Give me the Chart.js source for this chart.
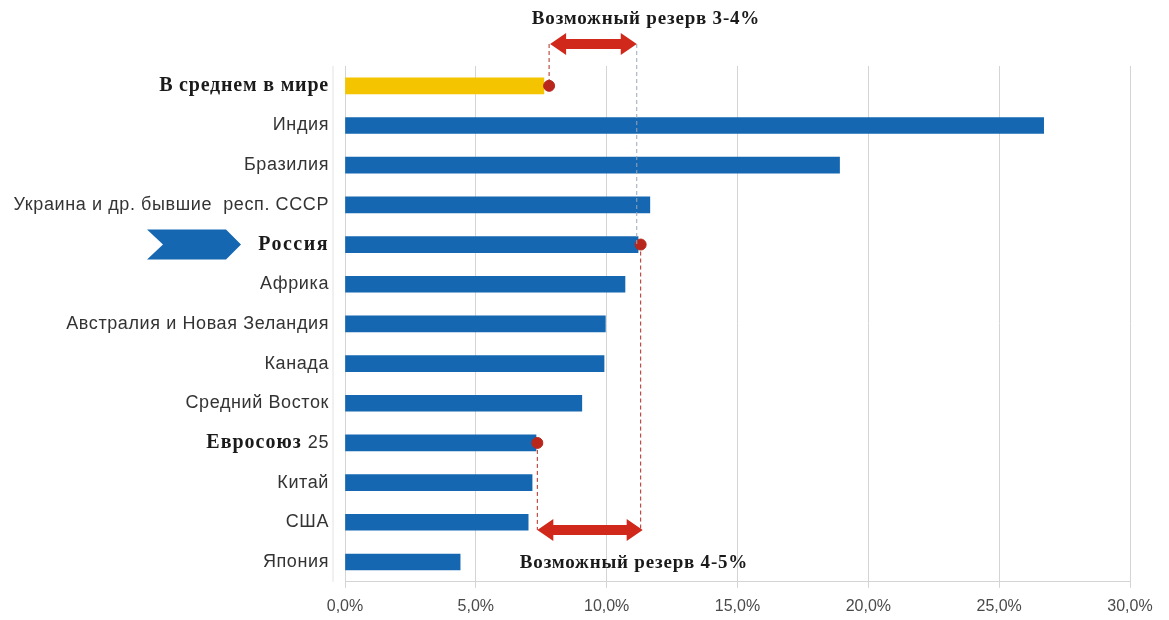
<!DOCTYPE html>
<html>
<head>
<meta charset="utf-8">
<script src="https://cdn.jsdelivr.net/npm/chart.js@4"></script>
<style>
  html, body { margin: 0; padding: 0; background: #fff; }
  #wrap { width: 1169px; height: 620px; }
</style>
</head>
<body>
<div id="wrap"><canvas id="chart" width="1169" height="620"></canvas></div>
<script>
/* Data */
const categories = ["В среднем в мире", "Индия", "Бразилия", "Украина и др. бывшие  респ. СССР", "Россия", "Африка",
    "Австралия и Новая Зеландия", "Канада", "Средний Восток", "Евросоюз 25", "Китай", "США", "Япония"];
const values = [7.6, 26.7, 18.9, 11.65, 11.2, 10.7, 9.95, 9.9, 9.05, 7.3, 7.15, 7.0, 4.4];
const barColors = ["#f5c400", "#1567b2", "#1567b2", "#1567b2", "#1567b2", "#1567b2", "#1567b2",
    "#1567b2", "#1567b2", "#1567b2", "#1567b2", "#1567b2", "#1567b2"];
const dotCategories = ["В среднем в мире", "Россия", "Евросоюз 25"];
const dotValues = [7.8, 11.3, 7.35];
const boldLabels = ["В среднем в мире", "Россия", "Евросоюз"];
const reserveTop = [7.8, 11.15];     // Возможный резерв 3-4%
const reserveBottom = [7.35, 11.3];  // Возможный резерв 4-5%
const xTicks = [0, 5, 10, 15, 20, 25, 30];

/* Utilities */
function fmtPct(v){
    return v.toFixed(1).replace(".", ",") + "%";
}

const SANS = "18px 'Liberation Sans', Arial";
const SERIF_B = "bold 20px 'Liberation Serif', serif";

function drawArrow(ctx, x1, x2, y){
    const h = 5, head = 16, hw = 11;
    ctx.beginPath();
    ctx.moveTo(x1, y);
    ctx.lineTo(x1 + head, y - hw);
    ctx.lineTo(x1 + head, y - h);
    ctx.lineTo(x2 - head, y - h);
    ctx.lineTo(x2 - head, y - hw);
    ctx.lineTo(x2, y);
    ctx.lineTo(x2 - head, y + hw);
    ctx.lineTo(x2 - head, y + h);
    ctx.lineTo(x1 + head, y + h);
    ctx.lineTo(x1 + head, y + hw);
    ctx.closePath();
    ctx.fillStyle = "#d0281a";
    ctx.fill();
}

function dashed(ctx, x, y1, y2, color){
    ctx.save();
    ctx.strokeStyle = color;
    ctx.lineWidth = 1;
    ctx.setLineDash([4, 3]);
    ctx.beginPath();
    ctx.moveTo(x, y1);
    ctx.lineTo(x, y2);
    ctx.stroke();
    ctx.restore();
}

const overlay = {
    id: "overlay",
    afterDraw(chart){
        const ctx = chart.ctx;
        const xs = chart.scales.x, ys = chart.scales.y;
        const area = chart.chartArea;

        /* Category labels */
        ctx.save();
        ctx.textBaseline = "middle";
        ctx.textAlign = "right";
        categories.forEach(function(c, i){
            const y = ys.getPixelForValue(i);
            const xr = area.left - 16;
            if(c == "Евросоюз 25"){
                ctx.font = SANS;
                ctx.letterSpacing = "0.6px";
                ctx.fillStyle = "#333";
                const w = ctx.measureText("25").width;
                ctx.fillText("25", xr, y);
                ctx.font = SERIF_B;
                ctx.letterSpacing = "1px";
                ctx.fillStyle = "#1a1a1a";
                ctx.fillText("Евросоюз ", xr - w, y);
            }else if(boldLabels.indexOf(c) >= 0){
                ctx.font = SERIF_B;
                ctx.letterSpacing = c == "Россия" ? "1.5px" : "0.8px";
                ctx.fillStyle = "#1a1a1a";
                ctx.fillText(c, xr, y);
            }else{
                ctx.font = SANS;
                ctx.letterSpacing = "0.6px";
                ctx.fillStyle = "#333";
                ctx.fillText(c, xr, y);
            }
        });
        ctx.restore();

        /* faint axis line left of plot */
        ctx.save();
        ctx.strokeStyle = "#e2e2e2";
        ctx.beginPath();
        ctx.moveTo(area.left - 12, area.top);
        ctx.lineTo(area.left - 12, area.bottom);
        ctx.stroke();
        ctx.restore();

        /* Chevron next to Russia */
        const yr = ys.getPixelForValue(categories.indexOf("Россия"));
        ctx.save();
        ctx.fillStyle = "#1567b2";
        ctx.beginPath();
        ctx.moveTo(147, yr - 15);
        ctx.lineTo(226, yr - 15);
        ctx.lineTo(241, yr);
        ctx.lineTo(226, yr + 15);
        ctx.lineTo(147, yr + 15);
        ctx.lineTo(163, yr);
        ctx.closePath();
        ctx.fill();
        ctx.restore();

        /* Reserve arrows */
        const topY = 44, botY = 530;
        const yw = ys.getPixelForValue(0);
        const ye = ys.getPixelForValue(categories.indexOf("Евросоюз 25"));
        const t1 = xs.getPixelForValue(reserveTop[0]), t2 = xs.getPixelForValue(reserveTop[1]);
        const b1 = xs.getPixelForValue(reserveBottom[0]), b2 = xs.getPixelForValue(reserveBottom[1]);
        dashed(ctx, t1, topY, yw, "#b02a20");
        dashed(ctx, t2, topY, yr, "#9aa6b8");
        dashed(ctx, b2, yr, botY, "#b02a20");
        dashed(ctx, b1, ye, botY, "#b02a20");
        drawArrow(ctx, t1 + 1, t2, topY);
        drawArrow(ctx, b1, b2 + 2, botY);

        ctx.save();
        ctx.font = "bold 19px 'Liberation Serif', serif";
        ctx.letterSpacing = "0.8px";
        ctx.fillStyle = "#1a1a1a";
        ctx.textAlign = "center";
        ctx.textBaseline = "middle";
        ctx.fillText("Возможный резерв 3-4%", 646, 19);
        ctx.fillText("Возможный резерв 4-5%", 634, 563);
        ctx.restore();
    }
};

new Chart(document.getElementById("chart"), {
    type: "bar",
    data: {
        labels: categories,
        datasets: [
            {
                type: "scatter",
                data: dotCategories.map(function(c, i){ return {x: dotValues[i], y: c}; }),
                backgroundColor: "#b8261c",
                borderColor: "#b8261c",
                pointRadius: 5.5,
                order: 0
            },
            {
                data: values,
                backgroundColor: barColors,
                barThickness: 16,
                borderSkipped: false,
                order: 1
            }
        ]
    },
    options: {
        indexAxis: "y",
        responsive: false,
        animation: false,
        layout: { padding: { left: 337, right: 39, top: 66, bottom: -5 } },
        plugins: {
            legend: { display: false },
            tooltip: { enabled: false }
        },
        scales: {
            x: {
                type: "linear",
                min: 0,
                max: 30,
                afterBuildTicks: function(axis){
                    axis.ticks = xTicks.map(function(v){ return {value: v}; });
                },
                grid: { color: "#d4d4d4", drawTicks: true, tickLength: 6 },
                border: { color: "#d4d4d4" },
                ticks: {
                    callback: function(v){ return fmtPct(v); },
                    color: "#4a4a4a",
                    font: { family: "'Liberation Sans', Arial", size: 16 },
                    padding: 9
                }
            },
            y: {
                type: "category",
                offset: true,
                grid: { display: false },
                border: { color: "#d4d4d4" },
                ticks: { display: false }
            }
        }
    },
    plugins: [overlay]
});
</script>
</body>
</html>
